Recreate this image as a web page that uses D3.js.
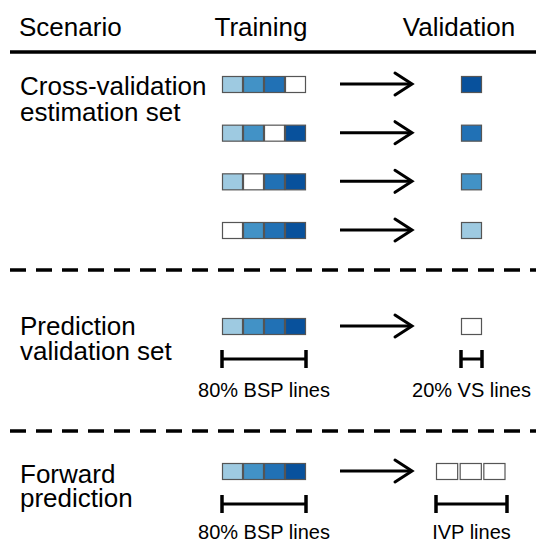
<!DOCTYPE html>
<html>
<head>
<meta charset="utf-8">
<script src="https://cdn.jsdelivr.net/npm/d3@7"></script>
<style>
  html, body { margin: 0; padding: 0; background: #fff; }
  svg { display: block; font-family: "Liberation Sans", Arial, sans-serif; }
</style>
</head>
<body>
<svg id="chart" width="536" height="543"></svg>
<script>
// ---- data ----
const headers = ["Scenario", "Training", "Validation"];
const scenarioLabels = [
  ["Cross-validation", "estimation set"],
  ["Prediction", "validation set"],
  ["Forward", "prediction"]
];
// fold index per cell (0 = held out / white)
const foldColors = ["#ffffff", "#9ecae1", "#4292c6", "#2171b5", "#08519c"];
const cvTraining = [[1, 2, 3, 0], [1, 2, 0, 4], [1, 0, 3, 4], [0, 2, 3, 4]];
const cvValidation = [[4], [3], [2], [1]];
const pvTraining = [[1, 2, 3, 4]];
const pvValidation = [[0]];
const fpTraining = [[1, 2, 3, 4]];
const fpValidation = [[0, 0, 0]];
const bracketLabelsPV = ["80% BSP lines", "20% VS lines"];
const bracketLabelsFP = ["80% BSP lines", "IVP lines"];

// ---- drawing ----
const svg = d3.select("#chart");
const W = 536;
const cellW = 21, cellH = 16;
const trainX = d3.scaleLinear().domain([0, 4]).range([222, 306]);
const valX1 = d3.scaleLinear().domain([0, 1]).range([461, 482]);
const valX3 = d3.scaleLinear().domain([0, 3]).range([436, 507]);
const cvY = d3.scaleLinear().domain([0, 3]).range([84, 230]);

// header
svg.append("text").attr("x", 19).attr("y", 36).attr("font-size", 26).text(headers[0]);
svg.append("text").attr("x", 261).attr("y", 36).attr("font-size", 26).attr("text-anchor", "middle").text(headers[1]);
svg.append("text").attr("x", 459).attr("y", 36).attr("font-size", 26).attr("text-anchor", "middle").text(headers[2]);
svg.append("line").attr("x1", 10).attr("x2", W).attr("y1", 52).attr("y2", 52)
  .attr("stroke", "#000").attr("stroke-width", 3.5);

// dashed separators
[270, 431].forEach(y => {
  svg.append("line").attr("x1", 10).attr("x2", W).attr("y1", y).attr("y2", y)
    .attr("stroke", "#000").attr("stroke-width", 3.5).attr("stroke-dasharray", "16,10");
});

function scenarioLabel(lines, yBase, gap) {
  const t = svg.append("text").attr("font-size", 26);
  lines.forEach((l, i) => {
    t.append("tspan").attr("x", 20).attr("y", yBase + i * gap).text(l);
  });
}

function cells(arr, xScale, yc, w) {
  const g = svg.append("g");
  g.selectAll("rect").data(arr).join("rect")
    .attr("x", (d, i) => xScale(i) + 0.5)
    .attr("y", yc - cellH / 2 + 0.5)
    .attr("width", w - 1)
    .attr("height", cellH)
    .attr("fill", d => foldColors[d])
    .attr("stroke", "#555")
    .attr("stroke-width", 1.2);
}

function arrow(yc) {
  svg.append("line").attr("x1", 340).attr("x2", 411).attr("y1", yc).attr("y2", yc)
    .attr("stroke", "#000").attr("stroke-width", 3);
  svg.append("path").attr("d", `M395,${yc - 11} L412,${yc} L395,${yc + 11}`)
    .attr("fill", "none").attr("stroke", "#000").attr("stroke-width", 3)
    .attr("stroke-linecap", "round").attr("stroke-linejoin", "miter");
}

function bracket(x1, x2, yc, label, off) {
  svg.append("line").attr("x1", x1).attr("x2", x2).attr("y1", yc).attr("y2", yc)
    .attr("stroke", "#000").attr("stroke-width", 3);
  [x1, x2].forEach(x => svg.append("line").attr("x1", x).attr("x2", x)
    .attr("y1", yc - 9).attr("y2", yc + 9).attr("stroke", "#000").attr("stroke-width", 3.5));
  svg.append("text").attr("x", (x1 + x2) / 2).attr("y", yc + off).attr("font-size", 20)
    .attr("text-anchor", "middle").text(label);
}

// cross-validation
scenarioLabel(scenarioLabels[0], 95, 26);
cvTraining.forEach((row, r) => {
  const yc = cvY(r);
  cells(row, trainX, yc, cellW);
  arrow(yc);
  cells(cvValidation[r], valX1, yc, cellW);
});

// prediction validation set
scenarioLabel(scenarioLabels[1], 335, 25);
{
  const yc = 326;
  cells(pvTraining[0], trainX, yc, cellW);
  arrow(yc);
  cells(pvValidation[0], valX1, yc, cellW);
  bracket(trainX(0), trainX(4), 359, bracketLabelsPV[0], 38);
  bracket(valX1(0), valX1(1), 359, bracketLabelsPV[1], 38);
}

// forward prediction
scenarioLabel(scenarioLabels[2], 483, 24);
{
  const yc = 471;
  cells(fpTraining[0], trainX, yc, cellW);
  arrow(yc);
  const w3 = (valX3(1) - valX3(0));
  svg.append("g").selectAll("rect").data(fpValidation[0]).join("rect")
    .attr("x", (d, i) => valX3(i) + 0.5)
    .attr("y", yc - cellH / 2 + 0.5)
    .attr("width", w3 - 2.5)
    .attr("height", cellH)
    .attr("fill", d => foldColors[d])
    .attr("stroke", "#555")
    .attr("stroke-width", 1.2);
  bracket(trainX(0), trainX(4), 504, bracketLabelsFP[0], 35);
  bracket(valX3(0), valX3(3), 504, bracketLabelsFP[1], 35);
}
</script>
</body>
</html>
